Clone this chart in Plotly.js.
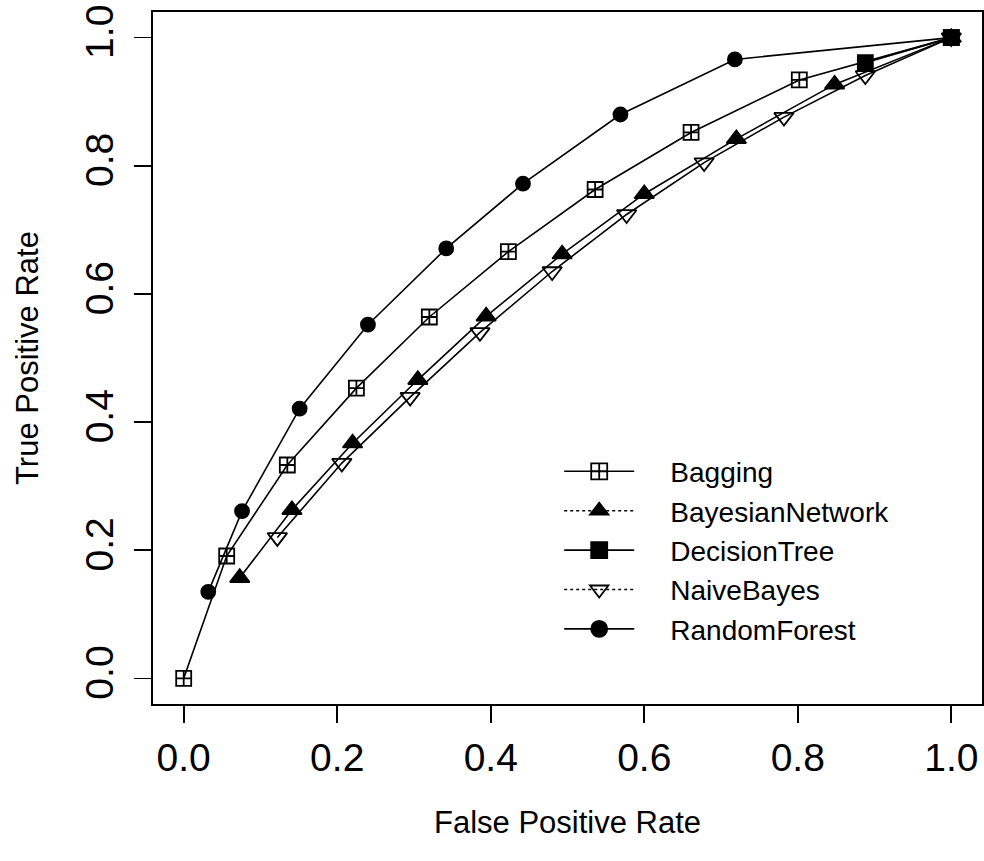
<!DOCTYPE html>
<html><head><meta charset="utf-8">
<script src="https://cdn.plot.ly/plotly-3.0.1.min.js"></script>
<style>body{margin:0;background:#fff}#chart{width:984px;height:861px}</style>
</head><body><div id="chart"></div>
<script>
// Series names
const seriesNames = ["Bagging", "BayesianNetwork", "DecisionTree", "NaiveBayes", "RandomForest"];

// False positive rates / true positive rates
const baggingFPR = [0, 0.056, 0.135, 0.225, 0.320, 0.423, 0.536, 0.661, 0.802, 1];
const baggingTPR = [0, 0.191, 0.333, 0.453, 0.564, 0.666, 0.763, 0.852, 0.934, 1];

const bayesNetFPR = [0.073, 0.141, 0.220, 0.305, 0.394, 0.493, 0.600, 0.720, 0.848, 1];
const bayesNetTPR = [0.157, 0.263, 0.367, 0.466, 0.565, 0.662, 0.756, 0.842, 0.927, 1];

const decisionTreeFPR = [0.888, 1];
const decisionTreeTPR = [0.961, 1];

const naiveBayesFPR = [0.122, 0.206, 0.295, 0.386, 0.480, 0.577, 0.678, 0.782, 0.888, 1];
const naiveBayesTPR = [0.220, 0.336, 0.439, 0.540, 0.635, 0.724, 0.805, 0.876, 0.941, 1];

const randomForestFPR = [0.032, 0.076, 0.151, 0.240, 0.342, 0.442, 0.569, 0.718, 1];
const randomForestTPR = [0.135, 0.261, 0.421, 0.552, 0.671, 0.772, 0.880, 0.966, 1];

const tickVals = [0, 0.2, 0.4, 0.6, 0.8, 1.0];
const tickText = ["0.0", "0.2", "0.4", "0.6", "0.8", "1.0"];

const xs = [baggingFPR, bayesNetFPR, decisionTreeFPR, naiveBayesFPR, randomForestFPR];
const ys = [baggingTPR, bayesNetTPR, decisionTreeTPR, naiveBayesTPR, randomForestTPR];
const symbols = ["square-cross-open", "triangle-up", "square", "triangle-down-open", "circle"];
const sizes = [15, 17, 15, 17, 14];
const legendDash = ["solid", "dot", "solid", "dot", "solid"];

const FONT = "Liberation Sans, Arial, sans-serif";
const PAD = "\u00a0\u00a0\u00a0\u00a0";
const traces = [];
for (let i = 0; i < seriesNames.length; i++) {
  traces.push({
    type: "scatter", mode: "lines+markers", x: xs[i], y: ys[i], name: seriesNames[i],
    showlegend: false, cliponaxis: false,
    line: {color: "#000", width: 1.6},
    marker: {symbol: symbols[i], size: sizes[i], color: "#000", line: {color: "#000", width: 1.8}}
  });
}
for (let i = 0; i < seriesNames.length; i++) {
  traces.push({
    type: "scatter", mode: "lines+markers", x: [null], y: [null], name: PAD + seriesNames[i],
    showlegend: true,
    line: {color: "#000", width: 1.6, dash: legendDash[i]},
    marker: {symbol: symbols[i], size: 16, color: "#000", line: {color: "#000", width: 1.8}}
  });
}

const axisCommon = {
  range: [-0.04, 1.04], tickvals: tickVals, ticktext: tickText,
  showgrid: false, zeroline: false, showline: true, mirror: true,
  linecolor: "#000", linewidth: 1.6, ticks: "outside", ticklen: 17, tickwidth: 1.6, tickcolor: "#000",
  tickfont: {family: FONT, size: 39, color: "#000"}, automargin: false
};

const layout = {
  width: 984, height: 861,
  margin: {l: 153, r: 2, t: 12, b: 157, pad: 0},
  paper_bgcolor: "#fff", plot_bgcolor: "#fff",
  font: {family: FONT, color: "#000"},
  xaxis: Object.assign({}, axisCommon, {
    ticklabelstandoff: 2,
    title: {text: "False Positive Rate", font: {family: FONT, size: 31, color: "#000"}, standoff: 33}
  }),
  yaxis: Object.assign({}, axisCommon, {
    tickangle: -90, ticklabelstandoff: 6,
    title: {text: "True Positive Rate", font: {family: FONT, size: 31, color: "#000"}, standoff: 30}
  }),
  legend: {
    x: 0.49, y: 0.372, xanchor: "left", yanchor: "top",
    bgcolor: "rgba(0,0,0,0)", borderwidth: 0, itemwidth: 70,
    font: {family: FONT, size: 28, color: "#000"}, tracegroupgap: 0
  },
  showlegend: true
};

Plotly.newPlot("chart", traces, layout, {staticPlot: true, displayModeBar: false});
</script>
</body></html>
